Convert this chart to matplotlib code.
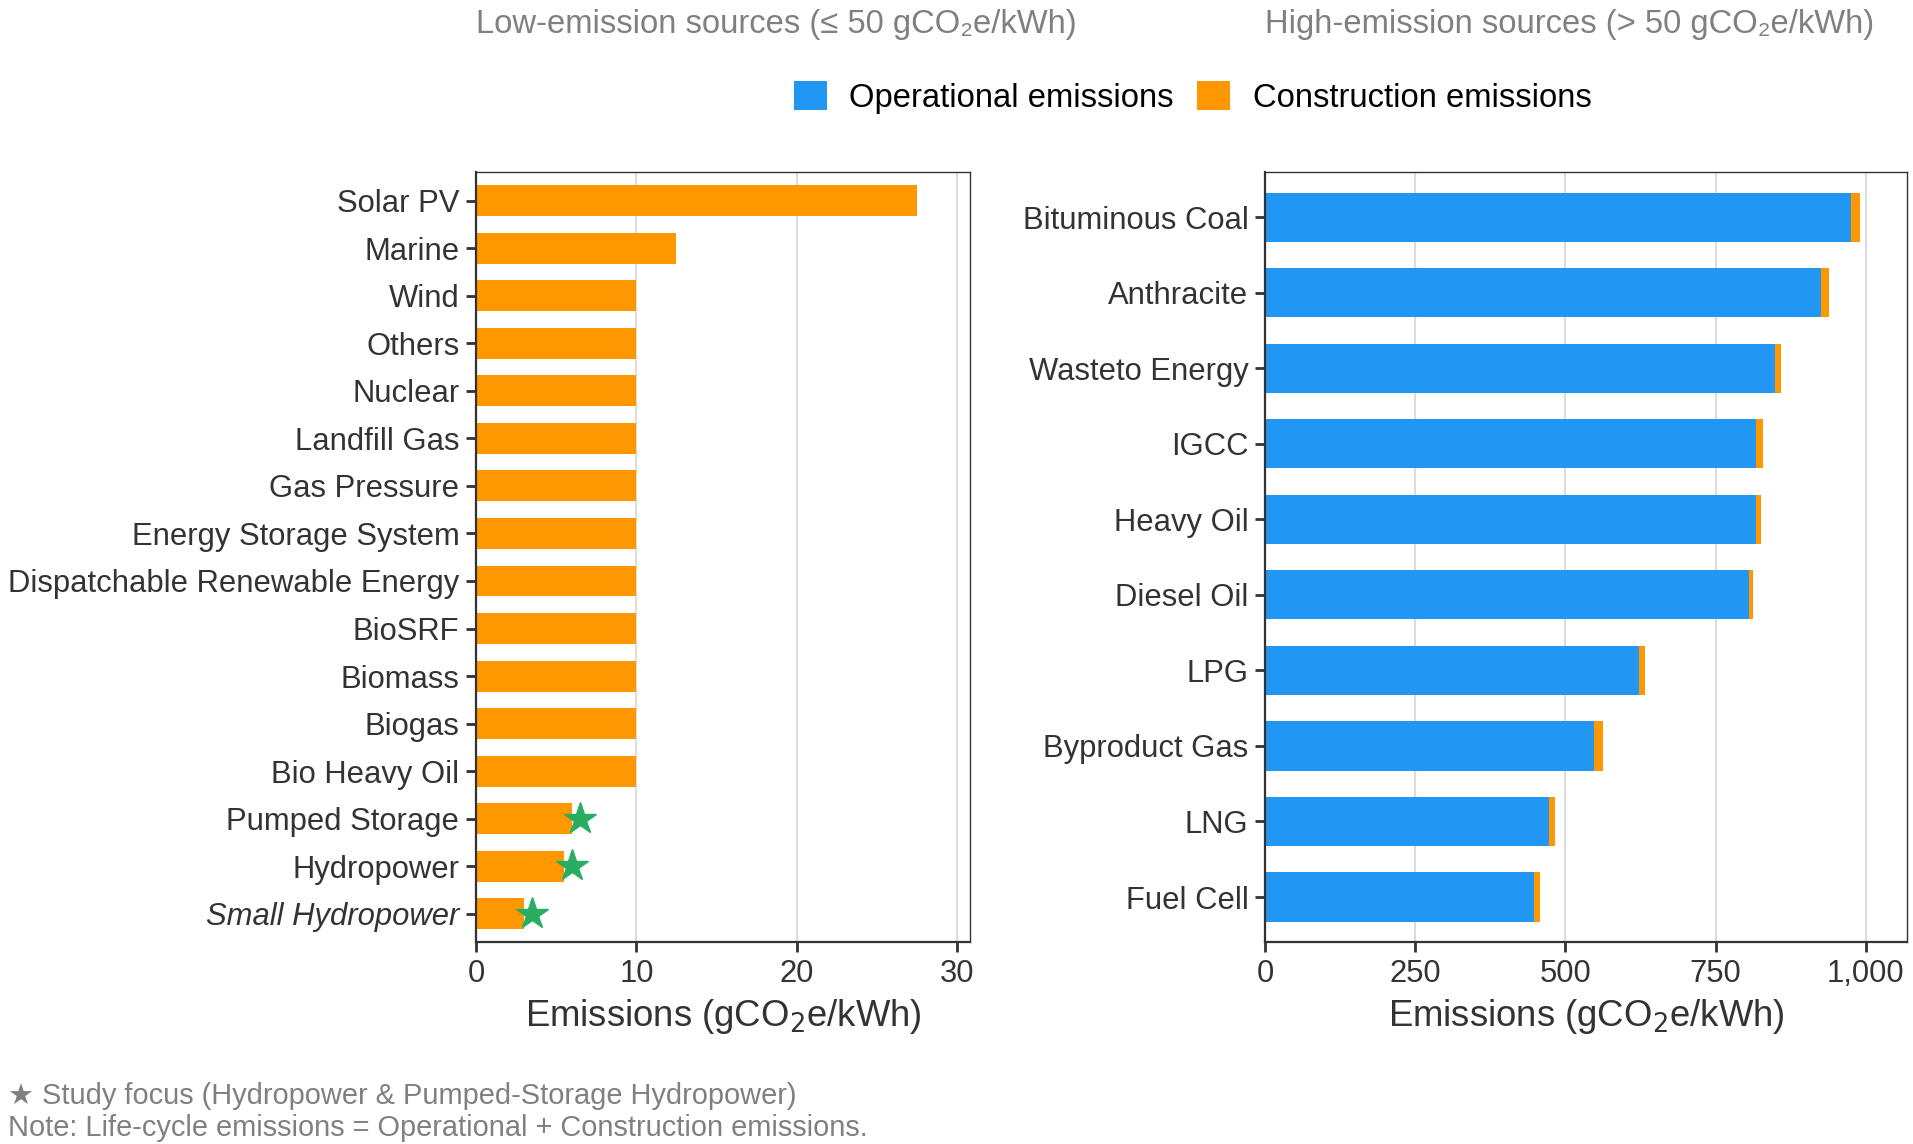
import matplotlib
matplotlib.use("Agg")
import matplotlib.pyplot as plt
from matplotlib.patches import Patch
import numpy as np

plt.rcParams['font.family'] = ['Liberation Sans', 'DejaVu Sans']

# ---- data ----
low_categories = ["Solar PV", "Marine", "Wind", "Others", "Nuclear", "Landfill Gas",
                  "Gas Pressure", "Energy Storage System", "Dispatchable Renewable Energy",
                  "BioSRF", "Biomass", "Biogas", "Bio Heavy Oil", "Pumped Storage",
                  "Hydropower", "Small Hydropower"]
low_operational = [0, 0, 0, 0, 0, 0, 0, 0, 0, 0, 0, 0, 0, 0, 0, 0]
low_construction = [27.5, 12.5, 10, 10, 10, 10, 10, 10, 10, 10, 10, 10, 10, 6.0, 5.5, 3.0]
focus_categories = ["Pumped Storage", "Hydropower", "Small Hydropower"]
star_offset = 0.5

high_categories = ["Bituminous Coal", "Anthracite", "Wasteto Energy", "IGCC", "Heavy Oil",
                   "Diesel Oil", "LPG", "Byproduct Gas", "LNG", "Fuel Cell"]
high_operational = [975, 925, 848, 818, 818, 806, 622, 548, 473, 447]
high_construction = [15, 14, 10, 10, 7, 7, 10, 14, 10, 10]

low_ticks = [0, 10, 20, 30]
high_ticks = [0, 250, 500, 750, 1000]
high_ticklabels = ["0", "250", "500", "750", "1,000"]

BLUE = "#2196F3"
ORANGE = "#FF9800"
GREEN = "#27AE60"
TXT = "#333333"
GREY = "#808080"

fig = plt.figure(figsize=(19.13, 11.44), dpi=100)
ax1 = fig.add_axes([0.2488, 0.1763, 0.2583, 0.6733])
ax2 = fig.add_axes([0.6613, 0.1763, 0.3354, 0.6733])

def draw(ax, cats, op, con, xmax, ticks, ticklabels):
    n = len(cats)
    y = np.arange(n)[::-1]
    op = np.array(op, float)
    con = np.array(con, float)
    ax.barh(y, op, height=0.65, color=BLUE, zorder=2)
    ax.barh(y, con, left=op, height=0.65, color=ORANGE, zorder=2)
    ax.set_ylim(-0.6, n - 1 + 0.6)
    ax.set_xlim(0, xmax)
    ax.set_yticks(y)
    ax.set_yticklabels(cats)
    ax.set_xticks(ticks)
    ax.set_xticklabels(ticklabels)
    ax.grid(axis='x', color='#dcdcdc', linewidth=1.5, zorder=0)
    ax.set_axisbelow(True)
    for s in ax.spines.values():
        s.set_color('#333333')
        s.set_linewidth(1.0)
    ax.spines['left'].set_linewidth(1.6)
    ax.spines['bottom'].set_linewidth(1.6)
    ax.tick_params(axis='both', length=7, width=2, color='#333333',
                   labelsize=22.3, labelcolor=TXT, pad=5)
    ax.set_xlabel("Emissions (gCO$_2$e/kWh)", fontsize=26.3, color=TXT, labelpad=6)
    return y

y1 = draw(ax1, low_categories, low_operational, low_construction, 30.8, low_ticks,
          [str(t) for t in low_ticks])
y2 = draw(ax2, high_categories, high_operational, high_construction, 1068, high_ticks,
          high_ticklabels)

# italic label for Small Hydropower
for lbl in ax1.get_yticklabels():
    if lbl.get_text() == "Small Hydropower":
        lbl.set_style('italic')

# stars for study focus
for c in focus_categories:
    i = low_categories.index(c)
    tot = low_operational[i] + low_construction[i]
    ax1.plot(tot + star_offset, y1[i], marker='*', markersize=24, color=GREEN,
             linestyle='none', zorder=4, clip_on=False)

# panel titles
fig.text(0.2488, 0.979, "Low-emission sources (≤ 50 gCO₂e/kWh)", fontsize=23.6,
         color=GREY, ha='left', va='center')
fig.text(0.6613, 0.979, "High-emission sources (> 50 gCO₂e/kWh)", fontsize=23.6,
         color=GREY, ha='left', va='center')

# legend
handles = [Patch(facecolor=BLUE, edgecolor='none'), Patch(facecolor=ORANGE, edgecolor='none')]
fig.legend(handles, ["Operational emissions", "Construction emissions"],
           loc='center', bbox_to_anchor=(0.6234, 0.915), ncol=2, frameon=False,
           fontsize=23.6, handlelength=1.0, handleheight=1.0, handletextpad=0.7,
           columnspacing=0.7, labelcolor='black')

# notes
fig.text(0.004, 0.0416, "★ Study focus (Hydropower & Pumped-Storage Hydropower)",
         fontsize=20.9, color=GREY, ha='left', va='center')
fig.text(0.004, 0.0136, "Note: Life-cycle emissions = Operational + Construction emissions.",
         fontsize=20.9, color=GREY, ha='left', va='center')

fig.savefig("out.png", dpi=100)
